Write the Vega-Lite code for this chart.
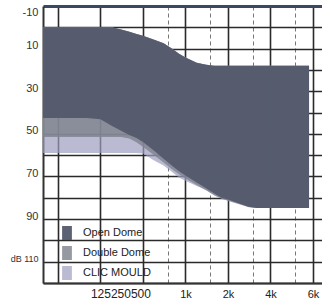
{
  "$schema": "https://vega.github.io/schema/vega-lite/v6.json",
  "width": 279,
  "height": 277,
  "autosize": {"type": "none"},
  "padding": {"left": 43, "top": 6, "right": 0, "bottom": 17},
  "background": "white",
  "data": {
    "values": [
      {"series": "Open Dome", "freq": 98, "low": 0, "high": 42.6},
      {"series": "Open Dome", "freq": 150, "low": 0, "high": 42.6},
      {"series": "Open Dome", "freq": 200, "low": 0, "high": 42.6},
      {"series": "Open Dome", "freq": 250, "low": 0, "high": 43.2},
      {"series": "Open Dome", "freq": 300, "low": 0, "high": 46.2},
      {"series": "Open Dome", "freq": 350, "low": 1, "high": 48.5},
      {"series": "Open Dome", "freq": 400, "low": 2.1, "high": 50.5},
      {"series": "Open Dome", "freq": 450, "low": 3.1, "high": 52},
      {"series": "Open Dome", "freq": 500, "low": 4, "high": 53.8},
      {"series": "Open Dome", "freq": 600, "low": 5.8, "high": 57.9},
      {"series": "Open Dome", "freq": 700, "low": 7.5, "high": 61.7},
      {"series": "Open Dome", "freq": 800, "low": 10, "high": 64.8},
      {"series": "Open Dome", "freq": 900, "low": 12.4, "high": 67.5},
      {"series": "Open Dome", "freq": 1000, "low": 14.2, "high": 69.5},
      {"series": "Open Dome", "freq": 1200, "low": 16.6, "high": 72.8},
      {"series": "Open Dome", "freq": 1400, "low": 17.6, "high": 75.5},
      {"series": "Open Dome", "freq": 1600, "low": 18, "high": 78},
      {"series": "Open Dome", "freq": 1800, "low": 18, "high": 80},
      {"series": "Open Dome", "freq": 2000, "low": 18, "high": 80.8},
      {"series": "Open Dome", "freq": 2400, "low": 18, "high": 82.7},
      {"series": "Open Dome", "freq": 2800, "low": 18, "high": 84.2},
      {"series": "Open Dome", "freq": 3200, "low": 18, "high": 84.8},
      {"series": "Open Dome", "freq": 4000, "low": 18, "high": 84.8},
      {"series": "Open Dome", "freq": 7500, "low": 18, "high": 84.8},
      {"series": "Double Dome", "freq": 98, "low": 0, "high": 51.5},
      {"series": "Double Dome", "freq": 150, "low": 0, "high": 51.5},
      {"series": "Double Dome", "freq": 200, "low": 0, "high": 51.5},
      {"series": "Double Dome", "freq": 250, "low": 0, "high": 51.5},
      {"series": "Double Dome", "freq": 300, "low": 0, "high": 51.5},
      {"series": "Double Dome", "freq": 350, "low": 1, "high": 51.5},
      {"series": "Double Dome", "freq": 400, "low": 2.1, "high": 52.2},
      {"series": "Double Dome", "freq": 450, "low": 3.1, "high": 54},
      {"series": "Double Dome", "freq": 500, "low": 4, "high": 56},
      {"series": "Double Dome", "freq": 600, "low": 5.8, "high": 60},
      {"series": "Double Dome", "freq": 700, "low": 7.5, "high": 63.5},
      {"series": "Double Dome", "freq": 800, "low": 10, "high": 66.5},
      {"series": "Double Dome", "freq": 900, "low": 12.4, "high": 69},
      {"series": "Double Dome", "freq": 1000, "low": 14.2, "high": 71},
      {"series": "Double Dome", "freq": 1200, "low": 16.6, "high": 74},
      {"series": "Double Dome", "freq": 1400, "low": 17.6, "high": 76.5},
      {"series": "Double Dome", "freq": 1600, "low": 18, "high": 78.8},
      {"series": "Double Dome", "freq": 1800, "low": 18, "high": 80.5},
      {"series": "Double Dome", "freq": 2000, "low": 18, "high": 81.3},
      {"series": "Double Dome", "freq": 2400, "low": 18, "high": 82.9},
      {"series": "Double Dome", "freq": 2800, "low": 18, "high": 84.3},
      {"series": "Double Dome", "freq": 3200, "low": 18, "high": 84.8},
      {"series": "Double Dome", "freq": 4000, "low": 18, "high": 84.8},
      {"series": "Double Dome", "freq": 7500, "low": 18, "high": 84.8},
      {"series": "CLIC MOULD", "freq": 98, "low": 0, "high": 59},
      {"series": "CLIC MOULD", "freq": 150, "low": 0, "high": 59},
      {"series": "CLIC MOULD", "freq": 200, "low": 0, "high": 59},
      {"series": "CLIC MOULD", "freq": 250, "low": 0, "high": 59},
      {"series": "CLIC MOULD", "freq": 300, "low": 0, "high": 59},
      {"series": "CLIC MOULD", "freq": 350, "low": 1, "high": 59},
      {"series": "CLIC MOULD", "freq": 400, "low": 2.1, "high": 59},
      {"series": "CLIC MOULD", "freq": 450, "low": 3.1, "high": 59},
      {"series": "CLIC MOULD", "freq": 500, "low": 4, "high": 59.2},
      {"series": "CLIC MOULD", "freq": 600, "low": 5.8, "high": 62.5},
      {"series": "CLIC MOULD", "freq": 700, "low": 7.5, "high": 64.8},
      {"series": "CLIC MOULD", "freq": 800, "low": 10, "high": 67.8},
      {"series": "CLIC MOULD", "freq": 900, "low": 12.4, "high": 70.5},
      {"series": "CLIC MOULD", "freq": 1000, "low": 14.2, "high": 72},
      {"series": "CLIC MOULD", "freq": 1200, "low": 16.6, "high": 74.5},
      {"series": "CLIC MOULD", "freq": 1400, "low": 17.6, "high": 76.3},
      {"series": "CLIC MOULD", "freq": 1600, "low": 18, "high": 78.8},
      {"series": "CLIC MOULD", "freq": 1800, "low": 18, "high": 80.3},
      {"series": "CLIC MOULD", "freq": 2000, "low": 18, "high": 81.5},
      {"series": "CLIC MOULD", "freq": 2400, "low": 18, "high": 83},
      {"series": "CLIC MOULD", "freq": 2800, "low": 18, "high": 84.4},
      {"series": "CLIC MOULD", "freq": 3200, "low": 18, "high": 84.8},
      {"series": "CLIC MOULD", "freq": 4000, "low": 18, "high": 84.8},
      {"series": "CLIC MOULD", "freq": 7500, "low": 18, "high": 84.8}
    ]
  },
  "encoding": {
    "x": {
      "field": "freq",
      "type": "quantitative",
      "scale": {"type": "log", "domain": [98, 9265], "nice": false, "zero": false},
      "axis": {
        "title": null,
        "values": [125, 250, 500, 750, 1000, 1500, 2000, 3000, 4000, 6000, 8000],
        "ticks": false,
        "domain": true,
        "domainColor": "#333333",
        "domainWidth": 2,
        "grid": true,
        "gridDash": {"condition": {"test": "indexof([750,1500,3000,6000], datum.value) >= 0", "value": [4, 3]}, "value": []},
        "gridColor": {"condition": {"test": "indexof([750,1500,3000,6000], datum.value) >= 0", "value": "#777777"}, "value": "#2a2a2a"},
        "gridWidth": {"condition": {"test": "indexof([750,1500,3000,6000], datum.value) >= 0", "value": 1}, "value": 1.6},
        "labelExpr": "datum.value == 250 ? '125250500' : datum.value == 1000 ? '1k' : datum.value == 2000 ? '2k' : datum.value == 4000 ? '4k' : datum.value == 8000 ? '6k' : ''",
        "labelOffset": {"condition": {"test": "datum.value == 250", "value": 20}, "value": 0},
        "labelFontSize": {"condition": {"test": "datum.value == 250", "value": 12}, "value": 11},
        "labelFont": "Liberation Sans",
        "labelPadding": 5,
        "labelColor": "#222222",
        "labelFlush": false,
        "labelOverlap": false
      }
    },
    "y": {
      "field": "low",
      "type": "quantitative",
      "scale": {"domain": [-10, 120], "reverse": true, "nice": false, "zero": false},
      "axis": {
        "title": null,
        "values": [-10, 0, 10, 20, 30, 40, 50, 60, 70, 80, 90, 100, 110, 120],
        "ticks": false,
        "domain": true,
        "domainColor": "#333333",
        "domainWidth": 2,
        "grid": true,
        "gridColor": {"condition": {"test": "datum.value == -10", "value": "#3b4763"}, "value": "#2a2a2a"},
        "gridWidth": {"condition": {"test": "datum.value == -10", "value": 3}, "value": 1.6},
        "labelExpr": "datum.value == 110 ? 'dB 110' : ((datum.value + 10) % 20 == 0 ? '' + datum.value : '')",
        "labelFontSize": {"condition": {"test": "datum.value == 110", "value": 9}, "value": 11},
        "labelOffset": {"condition": {"test": "datum.value == -10", "value": 6}, "value": -3},
        "labelFont": "Liberation Sans",
        "labelPadding": 5,
        "labelColor": "#333333",
        "labelFlush": false,
        "labelOverlap": false
      }
    },
    "y2": {"field": "high"},
    "color": {
      "field": "series",
      "type": "nominal",
      "scale": {"domain": ["Open Dome", "Double Dome", "CLIC MOULD"], "range": ["#535a6b", "#80838e", "#9c9cc0"]},
      "legend": {
        "title": null,
        "orient": "none",
        "legendX": 17,
        "legendY": 220,
        "padding": 0,
        "symbolType": "M-0.7,-1H0.7V1H-0.7Z",
        "symbolSize": 196,
        "symbolStrokeWidth": 0,
        "labelFont": "Liberation Sans",
        "labelFontSize": 11,
        "labelColor": "#222222",
        "labelOffset": 9,
        "rowPadding": 6
      }
    },
    "opacity": {
      "field": "series",
      "type": "nominal",
      "scale": {"domain": ["Open Dome", "Double Dome", "CLIC MOULD"], "range": [0.95, 0.7, 0.5]},
      "legend": {
        "title": null,
        "orient": "none",
        "legendX": 17,
        "legendY": 220,
        "padding": 0,
        "symbolType": "M-0.7,-1H0.7V1H-0.7Z",
        "symbolSize": 196,
        "symbolStrokeWidth": 0,
        "labelFont": "Liberation Sans",
        "labelFontSize": 11,
        "labelColor": "#222222",
        "labelOffset": 9,
        "rowPadding": 6
      }
    }
  },
  "layer": [
    {"transform": [{"filter": "datum.series == 'CLIC MOULD'"}], "mark": {"type": "area", "clip": true}},
    {"transform": [{"filter": "datum.series == 'Double Dome'"}], "mark": {"type": "area", "clip": true}},
    {"transform": [{"filter": "datum.series == 'Open Dome'"}], "mark": {"type": "area", "clip": true}}
  ],
  "config": {
    "view": {"stroke": null},
    "font": "Liberation Sans"
  }
}
